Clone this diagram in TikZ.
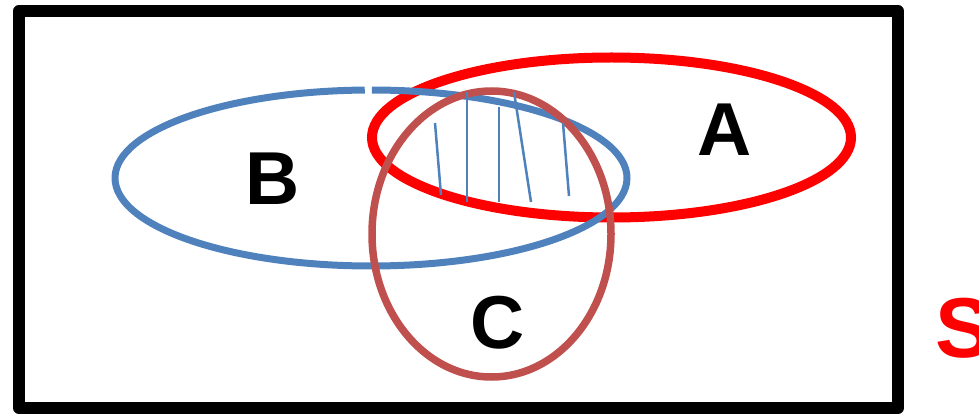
\documentclass[tikz,border=0pt]{standalone}
\usepackage{fontspec}
\setmainfont{Liberation Sans}
\usepackage{xcolor}
\usetikzlibrary{calc}
\definecolor{setblue}{HTML}{4F81BD}
\definecolor{setbrown}{HTML}{C0504D}

\begin{document}
\begin{tikzpicture}[x=1pt, y=-1pt,
  lbl/.style={font=\fontsize{75}{75}\selectfont\bfseries, inner sep=0pt},
  hatch/.style={setblue, line width=2.5pt}]
  \useasboundingbox (0,0) rectangle (979,414);
  \draw[line width=12pt, line join=round] (19,11) rectangle (898,408);

  \coordinate (cA) at (611.5,137.5);
  \coordinate (cB) at (371,178);
  \coordinate (cC) at (491.5,234);
  \draw[red, line width=10pt] (cA) ellipse [x radius=239.5, y radius=80];
  \draw[setblue, line width=7pt] ($(cB)+(270.2:256 and 88)$)
    arc[start angle=270.2, end angle=628.6, x radius=256, y radius=88];
  \draw[setbrown, line width=7.5pt] (cC) ellipse [x radius=119.5, y radius=143];

  % shading of the common part
  \foreach \xa/\ya/\xb/\yb in {435/123/441/195, 467/92/467/202,
      499/107/499/202, 514/92/531/202, 563/123/569/196}
    \draw[hatch] (\xa,\ya) -- (\xb,\yb);

  \node[lbl] (lblA) at (725,130) {A};
  \node[lbl] (lblB) at (273,179) {B};
  \node[lbl] (lblC) at (498,323) {C};
  \node[lbl, red, anchor=west, font=\fontsize{85}{85}\selectfont\bfseries] (lblS) at (935,328) {S};
\end{tikzpicture}
\end{document}
